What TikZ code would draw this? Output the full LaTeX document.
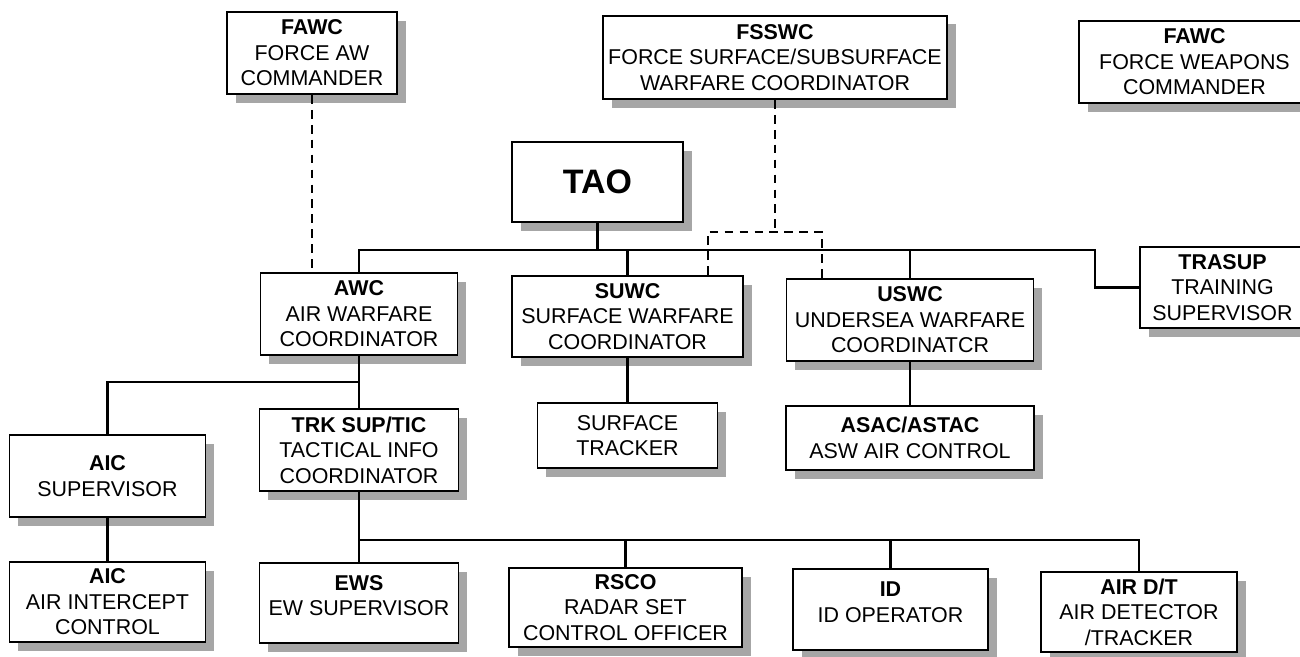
\documentclass[tikz,border=0pt]{standalone}
\usepackage{fontspec}
\setmainfont{Liberation Sans}
\usetikzlibrary{positioning, shadows}

\begin{document}
\begin{tikzpicture}[
  box/.style={draw, line width=1pt, fill=white, inner sep=0pt, align=center,
              font=\fontsize{12.2}{14.5}\selectfont,
              drop shadow={shadow xshift=0.17cm, shadow yshift=-0.17cm,
                           fill=black!35, opacity=1}},
  link/.style={line width=1.3pt},
  dotlink/.style={line width=1.4pt, dash pattern=on 5pt off 3.5pt}
]
  \useasboundingbox (0,0) rectangle (26,13.12);

  %--- Top: force commanders ---
  \node[box, minimum width=3.4cm, minimum height=1.64cm] (fawc) at (6.24, 12.06)
    {\textbf{FAWC}\\FORCE AW\\COMMANDER};
  \node[box, minimum width=6.88cm, minimum height=1.66cm] (fsswc) at (15.5, 11.97)
    {\textbf{FSSWC}\\FORCE SURFACE/SUBSURFACE\\WARFARE COORDINATOR};
  \node[box, minimum width=4.62cm, minimum height=1.64cm] (fwc) at (23.89, 11.88)
    {\textbf{FAWC}\\FORCE WEAPONS\\COMMANDER};

  \node[box, minimum width=3.42cm, minimum height=1.6cm,
        font=\fontsize{19.3}{22}\selectfont\bfseries] (tao) at (11.95, 9.48) {TAO};

  %--- Warfare coordinators ---
  \node[box, minimum width=3.94cm, minimum height=1.64cm] (awc) at (7.18, 6.84)
    {\textbf{AWC}\\AIR WARFARE\\COORDINATOR};
  \node[box, minimum width=4.62cm, minimum height=1.62cm] (suwc) at (12.55, 6.79)
    {\textbf{SUWC}\\SURFACE WARFARE\\COORDINATOR};
  \node[box, minimum width=4.94cm, minimum height=1.64cm] (uswc) at (18.2, 6.72)
    {\textbf{USWC}\\UNDERSEA WARFARE\\COORDINATCR};
  \node[box, minimum width=3.3cm, minimum height=1.62cm] (trasup) at (24.45, 7.37)
    {\textbf{TRASUP}\\TRAINING\\SUPERVISOR};

  %--- Second level ---
  \node[box, minimum width=3.92cm, minimum height=1.64cm] (aicsup) at (2.15, 3.6)
    {\textbf{AIC}\\SUPERVISOR};
  \node[box, minimum width=3.98cm, minimum height=1.64cm] (trk) at (7.18, 4.12)
    {\textbf{TRK SUP/TIC}\\TACTICAL INFO\\COORDINATOR};
  \node[box, minimum width=3.6cm, minimum height=1.3cm] (surftrk) at (12.55, 4.41)
    {SURFACE\\TRACKER};
  \node[box, minimum width=4.96cm, minimum height=1.28cm] (asac) at (18.2, 4.36)
    {\textbf{ASAC/ASTAC}\\ASW AIR CONTROL};

  %--- Bottom row ---
  \node[box, minimum width=3.92cm, minimum height=1.6cm] (aic) at (2.15, 1.08)
    {\textbf{AIC}\\AIR INTERCEPT\\CONTROL};
  \node[box, minimum width=3.98cm, minimum height=1.6cm] (ews) at (7.18, 1.06)
    {\textbf{EWS}\\EW SUPERVISOR\\[-6pt]~};
  \node[box, minimum width=4.66cm, minimum height=1.58cm] (rsco) at (12.51, 0.97)
    {\textbf{RSCO}\\RADAR SET\\CONTROL OFFICER};
  \node[box, minimum width=3.9cm, minimum height=1.62cm] (idop) at (17.81, 0.93)
    {\textbf{ID}\\ID OPERATOR\\[-6pt]~};
  \node[box, minimum width=3.92cm, minimum height=1.6cm] (airdt) at (22.78, 0.88)
    {\textbf{AIR D/T}\\AIR DETECTOR\\/TRACKER};

  % TAO bus
  \coordinate (bend) at (21.9, 8.12);
  \draw[link] (awc.north) |- (bend) |- (trasup.west);
  \draw[link] (tao.south) -- (tao.south |- bend);
  \draw[link] (suwc.north) -- (suwc.north |- bend);
  \draw[link] (uswc.north) -- (uswc.north |- bend);

  % dashed force links
  \coordinate (dl) at (14.16, 8.48);
  \coordinate (dr) at (16.44, 8.48);
  \draw[dotlink] (fsswc.south) -- (fsswc.south |- dl);
  \draw[dotlink] (suwc.north -| dl) |- (dr) -- (uswc.north -| dr);
  \draw[dotlink] (fawc.south) -- (fawc.south |- awc.north);

  % AWC branch
  \coordinate (aicj) at (7.18, 5.48);
  \draw[link] (awc.south) -- (trk.north);
  \draw[link] (aicsup.north) |- (aicj);
  \draw[link] (aicsup.south) -- (aic.north);

  \draw[link] (suwc.south) -- (surftrk.north);
  \draw[link] (uswc.south) -- (asac.north);

  % TIC branch
  \coordinate (trkj) at (7.18, 2.32);
  \draw[link] (trk.south) -- (ews.north);
  \draw[link] (trkj) -| (airdt.north);
  \draw[link] (rsco.north) -- (rsco.north |- trkj);
  \draw[link] (idop.north) -- (idop.north |- trkj);

\end{tikzpicture}
\end{document}
